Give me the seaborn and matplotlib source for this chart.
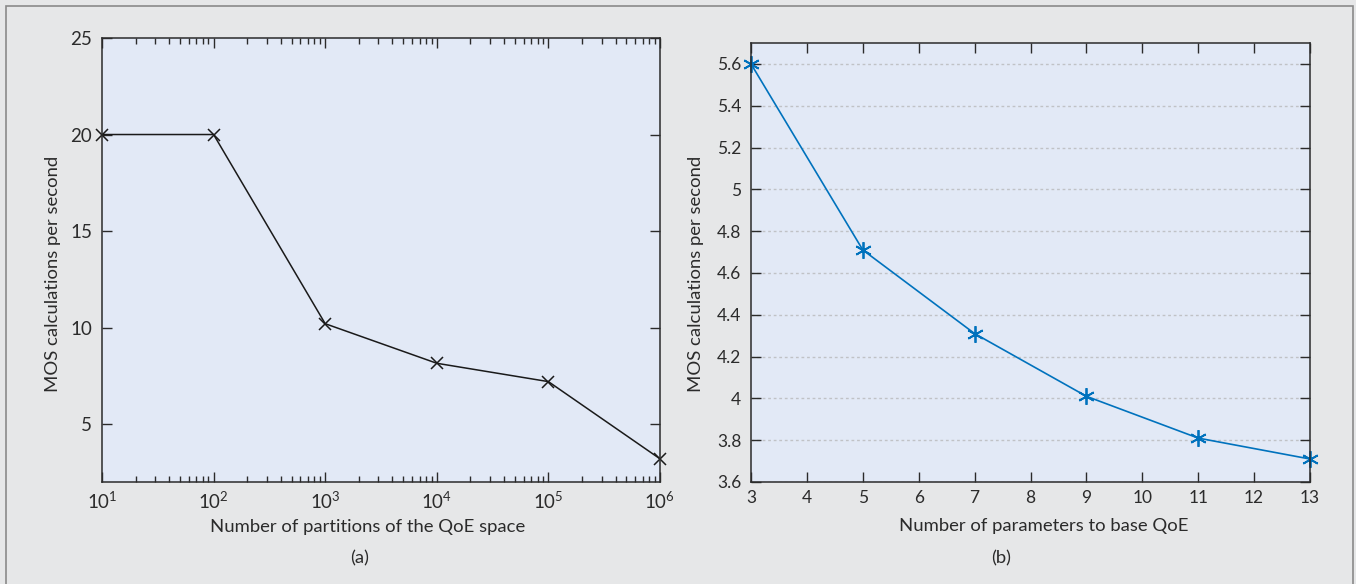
import numpy as np
import pandas as pd
import matplotlib
matplotlib.use("Agg")
import matplotlib.pyplot as plt
import seaborn as sns
from matplotlib.ticker import LogLocator, NullFormatter
from matplotlib.patches import Rectangle

# Data (a): partitions of the QoE space
partitions = [1e1, 1e2, 1e3, 1e4, 1e5, 1e6]
mos_rate_a = [20.0, 20.0, 10.2, 8.15, 7.2, 3.2]

# Data (b): number of parameters
n_params = [3, 5, 7, 9, 11, 13]
mos_rate_b = [5.6, 4.71, 4.31, 4.01, 3.81, 3.71]

sns.set_theme(style="ticks")
plt.rcParams['font.family'] = ['Lato', 'DejaVu Sans']
plt.rcParams['mathtext.fontset'] = 'custom'
plt.rcParams['mathtext.rm'] = 'Lato'

fig_bg = '#e6e7e8'
ax_bg = '#e2e9f6'
ink = '#2b2b2b'
blue = '#0072bd'

fig = plt.figure(figsize=(13.56, 5.84), dpi=100, facecolor=fig_bg)
W, H = 1356, 584

# outer frame
fig.patches.append(Rectangle((6 / W, -0.05), (1353 - 6) / W, 1.05 - 6 / H,
                             transform=fig.transFigure, fill=False,
                             edgecolor='#8a8a8a', linewidth=1.2))

ax1 = fig.add_axes([102 / W, (H - 482) / H, 558 / W, 444 / H])
ax2 = fig.add_axes([751 / W, (H - 482) / H, 559 / W, 439 / H])

df_a = pd.DataFrame({'partitions': partitions, 'rate': mos_rate_a})
df_b = pd.DataFrame({'params': n_params, 'rate': mos_rate_b})

sns.lineplot(data=df_a, x='partitions', y='rate', ax=ax1, color='#1a1a1a',
             linewidth=1.1, marker='x', markersize=8, markeredgewidth=1.1,
             markeredgecolor='#1a1a1a', clip_on=False)
sns.lineplot(data=df_b, x='params', y='rate', ax=ax2, color=blue,
             linewidth=1.2, marker=(6, 2, 0), markersize=12, markeredgewidth=1.3,
             markeredgecolor=blue, clip_on=False)

for ax, tsize in ((ax1, 13.5), (ax2, 12.5)):
    ax.set_facecolor(ax_bg)
    for s in ax.spines.values():
        s.set_visible(True)
        s.set_color(ink)
        s.set_linewidth(1.1)
    ax.tick_params(which='both', direction='in', top=True, right=True,
                   colors=ink, labelcolor=ink, labelsize=tsize, width=1.0)
    ax.tick_params(which='major', length=7)
    ax.tick_params(which='minor', length=4)
    ax.tick_params(axis='y', pad=7)
    ax.tick_params(axis='x', pad=6)

# panel (a)
ax1.set_xscale('log')
ax1.set_xlim(1e1, 1e6)
ax1.set_ylim(2, 25)
ax1.set_yticks([5, 10, 15, 20, 25])
ax1.xaxis.set_major_locator(LogLocator(base=10, numticks=10))
ax1.xaxis.set_minor_locator(LogLocator(base=10, subs=np.arange(2, 10), numticks=20))
ax1.xaxis.set_minor_formatter(NullFormatter())
ax1.set_xlabel('Number of partitions of the QoE space', fontsize=13.3, color=ink)
ax1.set_ylabel('MOS calculations per second', fontsize=13.3, color=ink)
ax1.xaxis.set_label_coords((368 - 102) / 558, (482 - 519) / 444)
ax1.yaxis.set_label_coords((61 - 102) / 558, (482 - 274) / 444)

# panel (b)
ax2.set_xlim(3, 13)
ax2.set_ylim(3.6, 5.7)
ax2.set_xticks(range(3, 14))
ax2.set_yticks([3.6, 3.8, 4.0, 4.2, 4.4, 4.6, 4.8, 5.0, 5.2, 5.4, 5.6])
ax2.set_yticklabels(['3.6', '3.8', '4', '4.2', '4.4', '4.6', '4.8', '5', '5.2', '5.4', '5.6'])
ax2.minorticks_off()
ax2.yaxis.grid(True, linestyle=(0, (2, 2)), color='#c0c2c6', linewidth=1.0)
ax2.set_axisbelow(True)
ax2.set_xlabel('Number of parameters to base QoE', fontsize=13.3, color=ink)
ax2.set_ylabel('MOS calculations per second', fontsize=13.3, color=ink)
ax2.xaxis.set_label_coords((1044 - 751) / 559, (482 - 518) / 439)
ax2.yaxis.set_label_coords((704 - 751) / 559, (482 - 274) / 439)

fig.text(360 / W, 1 - 558 / H, '(a)', ha='center', va='center', fontsize=13.3, color=ink)
fig.text(1001 / W, 1 - 558 / H, '(b)', ha='center', va='center', fontsize=13.3, color=ink)

fig.savefig('out.png', dpi=100, facecolor=fig_bg)
